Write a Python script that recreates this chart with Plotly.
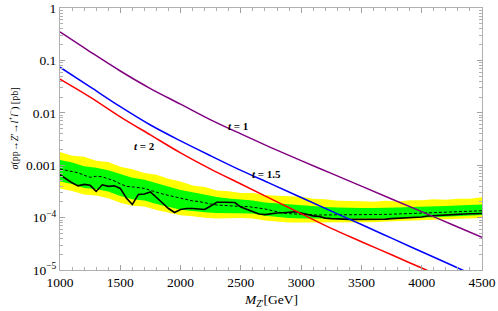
import math
import plotly.graph_objects as go

# ---------------- data ----------------
M_theory = [1000, 1250, 1500, 1750, 2000, 2250, 2500, 2750, 3000, 3250, 3500, 3750, 4000, 4250, 4500]
sigma_t1 = [0.349, 0.146, 0.0628, 0.0290, 0.0146, 0.00733, 0.00395, 0.00217, 0.00122,
            6.99e-4, 3.98e-4, 2.27e-4, 1.30e-4, 7.40e-5, 4.22e-5]
sigma_t15 = [0.0740, 0.0312, 0.0131, 0.00585, 0.00291, 0.00151, 7.98e-4, 4.41e-4, 2.42e-4,
             1.33e-4, 7.37e-5, 4.05e-5, 2.23e-5, 1.23e-5, 6.77e-6]
sigma_t2 = [0.0441, 0.0200, 0.00838, 0.00378, 0.00172, 8.41e-4, 4.37e-4, 2.27e-4, 1.19e-4,
            6.23e-5, 3.47e-5, 1.95e-5, 1.09e-5, 6.12e-6, 3.41e-6]

M_limit = list(range(1000, 4501, 50))
observed = [6.57e-4, 5.50e-4, 4.61e-4, 4.03e-4, 4.31e-4, 4.13e-4, 3.16e-4, 4.22e-4, 3.95e-4, 4.03e-4,
            3.61e-4, 2.37e-4, 1.78e-4, 2.77e-4, 2.83e-4, 3.09e-4, 2.37e-4, 1.90e-4, 1.49e-4, 1.25e-4,
            1.43e-4, 1.49e-4, 1.49e-4, 1.46e-4, 1.43e-4, 1.66e-4, 1.96e-4, 1.96e-4, 1.96e-4, 1.94e-4,
            1.59e-4, 1.43e-4, 1.33e-4, 1.17e-4, 1.14e-4, 1.19e-4, 1.22e-4, 1.24e-4, 1.28e-4, 1.29e-4,
            1.22e-4, 1.14e-4, 1.08e-4, 1.05e-4, 9.78e-5, 9.57e-5, 9.36e-5, 9.36e-5, 9.24e-5, 9.24e-5,
            9.24e-5, 9.24e-5, 9.24e-5, 9.36e-5, 9.36e-5, 9.57e-5, 9.65e-5, 9.78e-5, 9.91e-5, 1.01e-4,
            1.03e-4, 1.07e-4, 1.08e-4, 1.10e-4, 1.12e-4, 1.13e-4, 1.15e-4, 1.17e-4, 1.18e-4, 1.19e-4,
            1.20e-4]
expected = [8.45e-4, 8.02e-4, 7.66e-4, 7.17e-4, 6.42e-4, 5.88e-4, 6.15e-4, 6.01e-4, 5.50e-4, 5.03e-4,
            4.41e-4, 3.95e-4, 3.86e-4, 3.78e-4, 3.61e-4, 3.31e-4, 3.03e-4, 2.83e-4, 2.65e-4, 2.48e-4,
            2.32e-4, 2.17e-4, 2.08e-4, 2.03e-4, 1.90e-4, 1.82e-4, 1.74e-4, 1.70e-4, 1.66e-4, 1.66e-4,
            1.63e-4, 1.63e-4, 1.59e-4, 1.52e-4, 1.46e-4, 1.36e-4, 1.28e-4, 1.22e-4, 1.19e-4, 1.17e-4,
            1.14e-4, 1.14e-4, 1.13e-4, 1.12e-4, 1.12e-4, 1.12e-4, 1.12e-4, 1.12e-4, 1.12e-4, 1.12e-4,
            1.13e-4, 1.13e-4, 1.14e-4, 1.14e-4, 1.15e-4, 1.16e-4, 1.17e-4, 1.18e-4, 1.19e-4, 1.20e-4,
            1.22e-4, 1.23e-4, 1.24e-4, 1.25e-4, 1.26e-4, 1.28e-4, 1.29e-4, 1.31e-4, 1.33e-4, 1.34e-4,
            1.35e-4]

M_band = list(range(1000, 4501, 100))
band2_hi = [1.78e-3, 1.52e-3, 1.45e-3, 1.22e-3, 1.15e-3, 9.3e-4, 8.4e-4, 7.1e-4, 6.6e-4, 5.5e-4,
            4.9e-4, 4.1e-4, 3.85e-4, 3.3e-4, 3.2e-4, 2.95e-4, 2.95e-4, 2.7e-4, 2.62e-4, 2.55e-4,
            2.5e-4, 2.3e-4, 2.25e-4, 2.1e-4, 2.1e-4, 2.05e-4, 2.0e-4, 2.1e-4, 2.02e-4, 2.15e-4,
            2.15e-4, 2.25e-4, 2.2e-4, 2.3e-4, 2.3e-4, 2.45e-4]
band1_hi = [1.25e-3, 1.12e-3, 9.57e-4, 8.95e-4, 8.02e-4, 6.72e-4, 5.75e-4, 5.26e-4, 4.51e-4, 3.86e-4,
            3.38e-4, 3.03e-4, 2.71e-4, 2.48e-4, 2.32e-4, 2.22e-4, 2.13e-4, 1.95e-4, 1.86e-4, 1.82e-4,
            1.74e-4, 1.66e-4, 1.59e-4, 1.56e-4, 1.52e-4, 1.52e-4, 1.52e-4, 1.56e-4, 1.56e-4, 1.59e-4,
            1.63e-4, 1.66e-4, 1.66e-4, 1.70e-4, 1.74e-4, 1.78e-4]
band1_lo = [4.89e-4, 4.38e-4, 3.66e-4, 3.51e-4, 3.14e-4, 2.58e-4, 2.25e-4, 2.11e-4, 1.81e-4, 1.58e-4,
            1.41e-4, 1.34e-4, 1.26e-4, 1.23e-4, 1.21e-4, 1.22e-4, 1.20e-4, 1.09e-4, 1.02e-4, 9.78e-5,
            9.57e-5, 9.57e-5, 9.36e-5, 9.36e-5, 9.36e-5, 9.36e-5, 9.36e-5, 9.57e-5, 9.78e-5, 9.78e-5,
            1.00e-4, 1.02e-4, 1.05e-4, 1.07e-4, 1.09e-4, 1.12e-4]
band2_lo = [3.59e-4, 3.21e-4, 2.75e-4, 2.63e-4, 2.35e-4, 1.93e-4, 1.69e-4, 1.62e-4, 1.39e-4, 1.24e-4,
            1.11e-4, 1.06e-4, 9.9e-5, 9.6e-5, 9.7e-5, 9.78e-5, 9.57e-5, 8.76e-5, 8.38e-5, 8.02e-5,
            8.02e-5, 8.02e-5, 8.02e-5, 8.02e-5, 8.02e-5, 8.19e-5, 8.19e-5, 8.38e-5, 8.56e-5, 8.56e-5,
            8.76e-5, 8.95e-5, 9.15e-5, 9.36e-5, 9.57e-5, 9.78e-5]

curve_labels = ["<b><i>t</i> = 1</b>", "<b><i>t</i> = 1.5</b>", "<b><i>t</i> = 2</b>"]
label_M = [2476, 2709, 1697]
label_sigma = [0.0055, 6.9e-4, 0.00237]

x_ticks = [1000, 1500, 2000, 2500, 3000, 3500, 4000, 4500]
y_tickvals = [1, 0.1, 0.01, 0.001, 1e-4, 1e-5]
y_ticktext = ["1", "0.1", "0.01", "0.001", "10<sup>\u22124</sup>", "10<sup>\u22125</sup>"]

x_title = "<i>M</i><sub><i>Z</i>\u2032</sub>[GeV]"
y_title = "<i>\u03c3</i>(pp\u2192<i>Z</i>\u2032\u2192<i>l</i><sup>+</sup><i>l</i><sup>\u2212</sup>) [pb]"

# ---------------- figure ----------------
SERIF = "Liberation Serif, Times New Roman, serif"
fig = go.Figure()

fig.add_trace(go.Scatter(x=M_band, y=band2_hi, mode="lines", line=dict(width=0, color="#FFFF00"),
                         showlegend=False, hoverinfo="skip"))
fig.add_trace(go.Scatter(x=M_band, y=band2_lo, mode="lines", line=dict(width=0, color="#FFFF00"),
                         fill="tonexty", fillcolor="#FFFF00", showlegend=False, hoverinfo="skip"))
fig.add_trace(go.Scatter(x=M_band, y=band1_hi, mode="lines", line=dict(width=0, color="#00FF00"),
                         showlegend=False, hoverinfo="skip"))
fig.add_trace(go.Scatter(x=M_band, y=band1_lo, mode="lines", line=dict(width=0, color="#00FF00"),
                         fill="tonexty", fillcolor="#00FF00", showlegend=False, hoverinfo="skip"))

fig.add_trace(go.Scatter(x=M_limit, y=expected, mode="lines",
                         line=dict(color="black", width=1, dash="3px,2px"), showlegend=False))
fig.add_trace(go.Scatter(x=M_limit, y=observed, mode="lines",
                         line=dict(color="black", width=1.6), showlegend=False))

for ys, col in [(sigma_t1, "#800080"), (sigma_t15, "#0000FF"), (sigma_t2, "#FF0000")]:
    fig.add_trace(go.Scatter(x=M_theory, y=ys, mode="lines",
                             line=dict(color=col, width=1.5, shape="spline"), showlegend=False))

for txt, mx, sy in zip(curve_labels, label_M, label_sigma):
    fig.add_annotation(x=mx, y=math.log10(sy), text=txt, showarrow=False,
                       font=dict(family=SERIF, size=11, color="black"))

fig.add_annotation(xref="paper", yref="paper", x=0.5, y=-0.115, text=x_title, showarrow=False,
                   xanchor="center", yanchor="middle", font=dict(family=SERIF, size=13.5, color="black"))
fig.add_annotation(xref="paper", yref="paper", x=-0.109, y=0.54, text=y_title, showarrow=False,
                   textangle=-90, xanchor="center", yanchor="middle",
                   font=dict(family=SERIF, size=10, color="black"))

axis_common = dict(showline=True, linecolor="#b0b0b0", linewidth=1, mirror="ticks",
                   ticks="inside", ticklen=5, tickcolor="#a0a0a0", tickwidth=1,
                   showgrid=False, zeroline=False, automargin=False,
                   tickfont=dict(family=SERIF, size=13.5, color="black"))

fig.update_xaxes(range=[1000, 4500], tickvals=x_ticks,
                 minor=dict(ticks="inside", ticklen=3, tickcolor="#b0b0b0", dtick=100),
                 **axis_common)
fig.update_yaxes(type="log", range=[-5, 0], tickvals=y_tickvals, ticktext=y_ticktext,
                 minor=dict(ticks="inside", ticklen=3, tickcolor="#b0b0b0", dtick="D1"),
                 **axis_common)

fig.update_layout(width=498, height=311, margin=dict(l=60, r=16, t=8, b=41, autoexpand=False),
                  paper_bgcolor="white", plot_bgcolor="white")

fig.write_html("out.html", config={"displayModeBar": False},
               post_script="document.body.style.margin='0';document.body.style.overflow='hidden';")
